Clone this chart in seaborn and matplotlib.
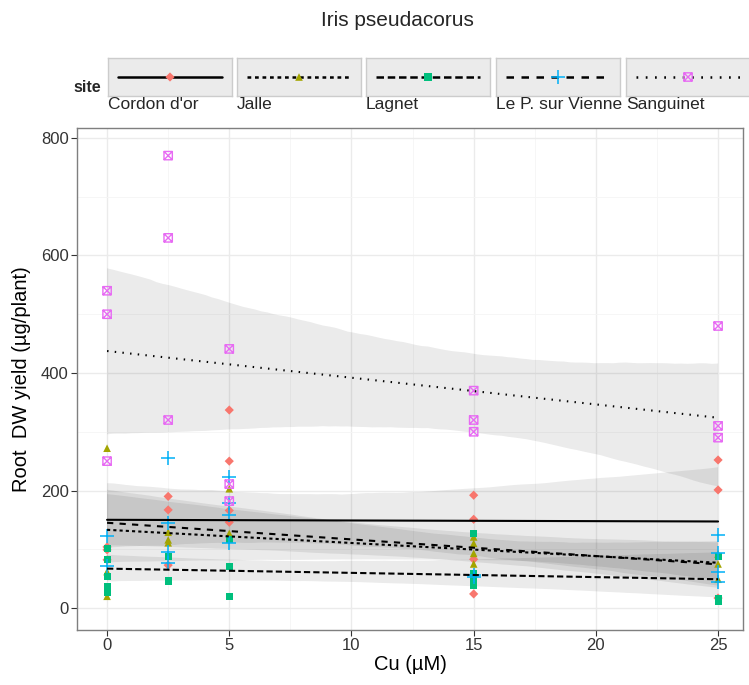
import numpy as np
import pandas as pd
import matplotlib
matplotlib.use("Agg")
import matplotlib.pyplot as plt
from matplotlib.path import Path
from matplotlib.lines import Line2D
import seaborn as sns

sites = ["Cordon d'or", "Jalle", "Lagnet", "Le P. sur Vienne", "Sanguinet"]

cordon_x = [0, 0, 0, 2.5, 2.5, 2.5, 5, 5, 5, 5, 15, 15, 15, 15, 25, 25, 25]
cordon_y = [104, 99, 82, 190, 167, 73, 337, 250, 166, 146, 192, 151, 83, 24, 252, 201, 17]

jalle_x = [0, 0, 0, 2.5, 2.5, 2.5, 5, 5, 15, 15, 15, 15, 25, 25, 25]
jalle_y = [272, 62, 20, 129, 116, 111, 203, 127, 121, 110, 93, 75, 92, 75, 49]

lagnet_x = [0, 0, 0, 0, 0, 2.5, 2.5, 5, 5, 5, 15, 15, 15, 15, 25, 25, 25]
lagnet_y = [102, 83, 54, 36, 27, 87, 46, 116, 70, 19, 127, 59, 48, 39, 87, 16, 12]

lep_x = [0, 0, 2.5, 2.5, 2.5, 2.5, 5, 5, 5, 5, 15, 15, 25, 25, 25, 25]
lep_y = [122, 72, 255, 145, 95, 77, 223, 178, 158, 111, 56, 53, 124, 94, 61, 45]

sang_x = [0, 0, 0, 2.5, 2.5, 2.5, 5, 5, 5, 15, 15, 15, 25, 25, 25]
sang_y = [540, 500, 250, 770, 630, 320, 441, 211, 182, 370, 320, 300, 480, 310, 290]

xs = [cordon_x, jalle_x, lagnet_x, lep_x, sang_x]
ys = [cordon_y, jalle_y, lagnet_y, lep_y, sang_y]

x_ticks = [0, 5, 10, 15, 20, 25]
y_ticks = [0, 200, 400, 600, 800]

rows = []
for s, xx, yy in zip(sites, xs, ys):
    for a, b in zip(xx, yy):
        rows.append({"site": s, "Cu": a, "yield": b})
df = pd.DataFrame(rows)

colors = ["#F8766D", "#A3A500", "#00BF7D", "#00B0F6", "#E76BF3"]
lstyles = ["-", (0, (1.5, 1.5)), (0, (3, 1.5)), (0, (3, 3)), (0, (0.7, 3))]

boxx = Path([(-1, -1), (1, -1), (1, 1), (-1, 1), (-1, -1), (1, 1), (-1, 1), (1, -1)],
            [Path.MOVETO, Path.LINETO, Path.LINETO, Path.LINETO, Path.CLOSEPOLY,
             Path.LINETO, Path.MOVETO, Path.LINETO])
markers = ["D", "^", "s", "+", boxx]
msizes = [22, 30, 26, 90, 36]

sns.set_theme(style="white")
plt.rcParams["font.family"] = ["Liberation Sans", "DejaVu Sans"]

W, H = 749, 685
fig = plt.figure(figsize=(W / 100, H / 100), dpi=100)
L, R, T, B = 77, 743, 128, 630
ax = fig.add_axes([L / W, 1 - B / H, (R - L) / W, (B - T) / H])

for i, s in enumerate(sites):
    sub = df[df.site == s]
    n_before = len(ax.collections)
    sns.regplot(data=sub, x="Cu", y="yield", ax=ax, scatter=False, color="black",
                ci=96, seed=0, n_boot=2000,
                line_kws=dict(color="black", lw=1.5, ls=lstyles[i], zorder=4))
    for coll in ax.collections[n_before:]:
        coll.set_facecolor("black")
        coll.set_alpha(0.08)
        coll.set_edgecolor("none")

for i, s in enumerate(sites):
    sub = df[df.site == s]
    if i == 3:
        sns.scatterplot(data=sub, x="Cu", y="yield", ax=ax, marker="+", s=msizes[i],
                        color=colors[i], linewidth=1.1, zorder=3, legend=False)
    elif i == 4:
        sns.scatterplot(data=sub, x="Cu", y="yield", ax=ax, marker=markers[i], s=msizes[i],
                        facecolor="none", edgecolor=colors[i], linewidth=1.0, zorder=3,
                        legend=False)
    else:
        sns.scatterplot(data=sub, x="Cu", y="yield", ax=ax, marker=markers[i], s=msizes[i],
                        color=colors[i], edgecolor="none", linewidth=0, zorder=3, legend=False)

ax.set_xlim(-1.23, 26.02)
ax.set_ylim(-37.4, 817)
ax.set_xticks(x_ticks)
ax.set_yticks(y_ticks)
ax.set_xticks([2.5, 7.5, 12.5, 17.5, 22.5], minor=True)
ax.set_yticks([100, 300, 500, 700], minor=True)
ax.grid(True, which="major", color="#EBEBEB", lw=1.0)
ax.grid(True, which="minor", color="#F5F5F5", lw=0.6)
ax.set_axisbelow(True)
for sp in ax.spines.values():
    sp.set_color("#7F7F7F")
    sp.set_linewidth(1.0)
ax.tick_params(axis="both", which="major", length=4, width=0.8, color="#333333",
               labelsize=12, labelcolor="#333333", direction="out", bottom=True, left=True,
               pad=2)
ax.tick_params(axis="both", which="minor", length=0)
ax.set_xlabel("Cu (µM)", fontsize=14.5, color="black", labelpad=1)
ax.set_ylabel("Root  DW yield (µg/plant)", fontsize=14.5, color="black", labelpad=7)

fig.text(397 / W, 1 - 20 / H, "Iris pseudacorus", ha="center", va="center", fontsize=15)
fig.text(101 / W, 1 - 87 / H, "site", ha="right", va="center", fontsize=11.5, fontweight="bold")

key_left = [108, 237, 366, 496, 626]
key_w = 124
for i, s in enumerate(sites):
    kax = fig.add_axes([key_left[i] / W, 1 - 96 / H, key_w / W, 38 / H])
    kax.set_facecolor("#EBEBEB")
    for sp in kax.spines.values():
        sp.set_color("#CCCCCC")
        sp.set_linewidth(1.0)
    kax.set_xlim(0, 1)
    kax.set_ylim(0, 1)
    kax.set_xticks([])
    kax.set_yticks([])
    kax.add_line(Line2D([0.08, 0.92], [0.5, 0.5], color="black", lw=1.8, ls=lstyles[i]))
    if i == 4:
        kax.scatter([0.5], [0.5], marker=boxx, s=36, facecolor="none",
                    edgecolor=colors[i], linewidth=1.0, zorder=3)
    elif i == 3:
        kax.scatter([0.5], [0.5], marker="+", s=90, color=colors[i], linewidth=1.1, zorder=3)
    else:
        kax.scatter([0.5], [0.5], marker=markers[i], s=msizes[i], color=colors[i],
                    edgecolor="none", zorder=3)
    fig.text(key_left[i] / W, 1 - 97 / H, s, ha="left", va="top", fontsize=12.5)

fig.savefig("out.png", dpi=100)
